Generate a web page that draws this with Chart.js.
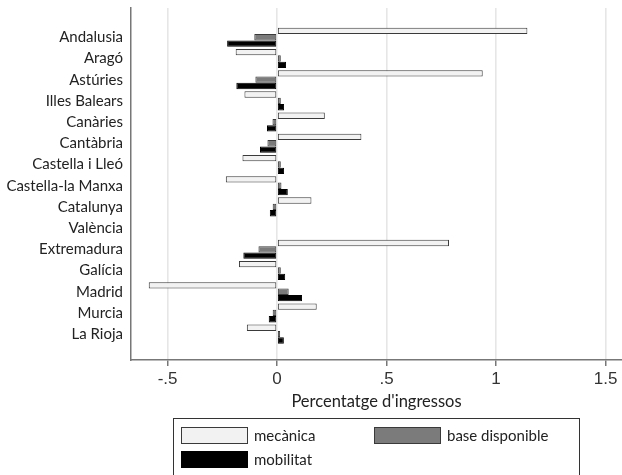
<!DOCTYPE html>
<html>
<head>
<meta charset="utf-8">
<script src="https://cdn.jsdelivr.net/npm/chart.js@4"></script>
<style>
  html, body { margin: 0; padding: 0; background: #fff; }
  #wrap { position: relative; width: 622px; height: 475px; overflow: hidden; }
  #chart { position: absolute; left: 0; top: 0; }
  #legend {
    position: absolute; left: 173px; top: 418px; width: 407px; height: 80px;
    border: 1px solid #333; box-sizing: border-box;
    font-family: Lato, 'Open Sans', sans-serif; font-size: 15px; color: #222;
  }
  .lg-item { position: absolute; display: flex; align-items: center; }
  .lg-box { width: 65px; height: 15px; border: 1px solid #444; margin-right: 6px; }
</style>
</head>
<body>
<div id="wrap">
  <canvas id="chart" width="622" height="475"></canvas>
  <div id="legend"></div>
</div>
<script>
// regions (top to bottom)
const regions = ['Andalusia', 'Aragó', 'Astúries', 'Illes Balears', 'Canàries', 'Cantàbria',
  'Castella i Lleó', 'Castella-la Manxa', 'Catalunya', 'València', 'Extremadura', 'Galícia',
  'Madrid', 'Murcia', 'La Rioja'];

// valors llegits del gràfic
const mecanica = [1.143, -0.189, 0.939, -0.149, 0.218, 0.385, -0.158, -0.234, 0.157, 0,
  0.785, -0.174, -0.586, 0.181, -0.138];
const baseDisponible = [-0.104, 0.017, -0.099, 0.017, -0.021, -0.044, 0.017, 0.020, -0.020, 0,
  -0.085, 0.017, 0.053, -0.020, 0.014];
const mobilitat = [-0.228, 0.041, -0.186, 0.032, -0.046, -0.078, 0.032, 0.049, -0.033, 0,
  -0.154, 0.037, 0.114, -0.038, 0.031];

const xTicks = [-0.5, 0, 0.5, 1, 1.5];
const xTickLabels = ['-.5', '0', '.5', '1', '1.5'];

const series = [
  { label: 'mecànica',         data: mecanica,       fill: '#f2f2f2', border: '#3a3a3a' },
  { label: 'base disponible',  data: baseDisponible, fill: '#7b7b7b', border: '#3a3a3a' },
  { label: 'mobilitat',        data: mobilitat,      fill: '#000000', border: '#000000' },
];

function toPoints(arr) {
  return arr.map((v, i) => ({ x: v, y: i }));
}

const datasets = series.map(s => ({
  label: s.label,
  data: toPoints(s.data),
  backgroundColor: s.fill,
  borderColor: s.border,
  borderWidth: 1,
  borderSkipped: false,
  categoryPercentage: 0.9,
  barPercentage: 1.0,
}));

new Chart(document.getElementById('chart').getContext('2d'), {
  type: 'bar',
  data: { datasets },
  options: {
    responsive: false,
    animation: false,
    indexAxis: 'y',
    layout: { padding: { top: 8, right: 0, left: 0, bottom: 61 } },
    plugins: { legend: { display: false }, tooltip: { enabled: false } },
    scales: {
      x: {
        type: 'linear',
        min: -0.667,
        max: 1.575,
        afterBuildTicks: axis => { axis.ticks = xTicks.map(v => ({ value: v })); },
        afterFit: axis => { axis.height = 54; axis.paddingLeft = 0; axis.paddingRight = 0; },
        ticks: {
          color: '#333',
          padding: 3,
          font: { family: "'Liberation Sans', Arial, sans-serif", size: 17 },
          callback: (v, i) => xTickLabels[i],
        },
        grid: { color: '#e6e6e6', lineWidth: 1.6, tickColor: '#555', tickLength: 6, tickWidth: 1.2 },
        border: { display: true, color: '#777', width: 1.5 },
        title: {
          display: true,
          text: "Percentatge d'ingressos",
          color: '#222',
          font: { family: "Lato, 'Open Sans', sans-serif", size: 16.5 },
          padding: { top: 0, bottom: 2 },
        },
      },
      y: {
        type: 'linear',
        reverse: true,
        offset: false,
        min: -1.38,
        max: 15.22,
        afterBuildTicks: axis => { axis.ticks = regions.map((_, i) => ({ value: i })); },
        afterFit: axis => { axis.width = 131; axis.paddingTop = 0; axis.paddingBottom = 0; },
        ticks: {
          color: '#222',
          padding: 8,
          font: { family: "Lato, 'Open Sans', sans-serif", size: 15 },
          callback: v => regions[v],
        },
        grid: { display: false, drawTicks: false, offset: false },
        border: { display: true, color: '#777', width: 1.5 },
      },
    },
  },
});

// llegenda
const legendPos = [
  { left: 7, top: 7 },
  { left: 200, top: 7 },
  { left: 7, top: 31 },
];
const legendEl = document.getElementById('legend');
series.forEach((s, i) => {
  const item = document.createElement('div');
  item.className = 'lg-item';
  item.style.left = legendPos[i].left + 'px';
  item.style.top = legendPos[i].top + 'px';
  item.innerHTML = `<span class="lg-box" style="background:${s.fill};border-color:${s.border}"></span><span>${s.label}</span>`;
  legendEl.appendChild(item);
});
</script>
</body>
</html>
